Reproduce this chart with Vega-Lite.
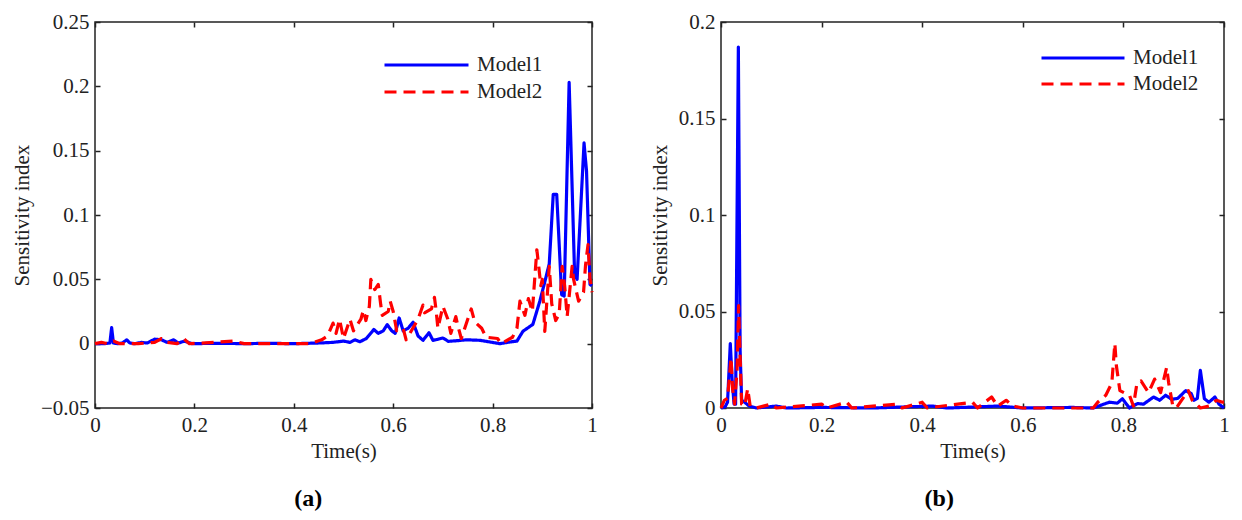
{
  "$schema": "https://vega.github.io/schema/vega-lite/v6.json",
  "background": "white",
  "padding": {"left": 10, "top": 10, "right": 0, "bottom": 0},
  "spacing": 50,
  "config": {
    "font": "Liberation Serif",
    "view": {"stroke": "#222222", "strokeWidth": 1.5},
    "axis": {
      "domain": false,
      "grid": false,
      "ticks": true,
      "tickSize": -5,
      "tickWidth": 1.5,
      "tickColor": "#222222",
      "labelFont": "Liberation Serif",
      "labelFontSize": 21,
      "labelColor": "#222222",
      "labelPadding": 11,
      "labelFlush": false,
      "labelOverlap": false,
      "titleFont": "Liberation Serif",
      "titleFontSize": 21,
      "titleFontWeight": "normal",
      "titleColor": "#222222"
    },
    "title": {"font": "Liberation Serif", "fontSize": 24, "fontWeight": "bold", "color": "#000000"}
  },
  "datasets": {
    "a": [
      {"model": "Model1", "t": 0, "v": 0},
      {"model": "Model1", "t": 0.02, "v": 0},
      {"model": "Model1", "t": 0.03, "v": 0.0005},
      {"model": "Model1", "t": 0.0335, "v": 0.0125},
      {"model": "Model1", "t": 0.037, "v": 0.0005},
      {"model": "Model1", "t": 0.045, "v": 0},
      {"model": "Model1", "t": 0.055, "v": 0.0005},
      {"model": "Model1", "t": 0.064, "v": 0.003},
      {"model": "Model1", "t": 0.07, "v": 0.0005},
      {"model": "Model1", "t": 0.08, "v": 0},
      {"model": "Model1", "t": 0.094, "v": 0.001},
      {"model": "Model1", "t": 0.105, "v": 0.0005},
      {"model": "Model1", "t": 0.12, "v": 0.0035},
      {"model": "Model1", "t": 0.134, "v": 0.003},
      {"model": "Model1", "t": 0.145, "v": 0.001},
      {"model": "Model1", "t": 0.158, "v": 0.003},
      {"model": "Model1", "t": 0.168, "v": 0.0005},
      {"model": "Model1", "t": 0.18, "v": 0.002},
      {"model": "Model1", "t": 0.195, "v": 0},
      {"model": "Model1", "t": 0.25, "v": 0.0003},
      {"model": "Model1", "t": 0.3, "v": 0},
      {"model": "Model1", "t": 0.35, "v": 0.0003},
      {"model": "Model1", "t": 0.4, "v": 0},
      {"model": "Model1", "t": 0.45, "v": 0.0005},
      {"model": "Model1", "t": 0.479, "v": 0.001},
      {"model": "Model1", "t": 0.5, "v": 0.002},
      {"model": "Model1", "t": 0.513, "v": 0.001},
      {"model": "Model1", "t": 0.523, "v": 0.003},
      {"model": "Model1", "t": 0.533, "v": 0.0015},
      {"model": "Model1", "t": 0.546, "v": 0.004},
      {"model": "Model1", "t": 0.561, "v": 0.011},
      {"model": "Model1", "t": 0.57, "v": 0.008},
      {"model": "Model1", "t": 0.58, "v": 0.01},
      {"model": "Model1", "t": 0.588, "v": 0.0148},
      {"model": "Model1", "t": 0.597, "v": 0.01},
      {"model": "Model1", "t": 0.604, "v": 0.008},
      {"model": "Model1", "t": 0.612, "v": 0.02},
      {"model": "Model1", "t": 0.62, "v": 0.01},
      {"model": "Model1", "t": 0.63, "v": 0.012},
      {"model": "Model1", "t": 0.64, "v": 0.0166},
      {"model": "Model1", "t": 0.65, "v": 0.006},
      {"model": "Model1", "t": 0.66, "v": 0.0026},
      {"model": "Model1", "t": 0.672, "v": 0.0085},
      {"model": "Model1", "t": 0.68, "v": 0.0026},
      {"model": "Model1", "t": 0.69, "v": 0.0034},
      {"model": "Model1", "t": 0.7, "v": 0.0044},
      {"model": "Model1", "t": 0.711, "v": 0.0018},
      {"model": "Model1", "t": 0.728, "v": 0.0023},
      {"model": "Model1", "t": 0.748, "v": 0.003},
      {"model": "Model1", "t": 0.775, "v": 0.0026},
      {"model": "Model1", "t": 0.795, "v": 0.0013},
      {"model": "Model1", "t": 0.815, "v": 0},
      {"model": "Model1", "t": 0.835, "v": 0.0013},
      {"model": "Model1", "t": 0.849, "v": 0.002},
      {"model": "Model1", "t": 0.861, "v": 0.0096},
      {"model": "Model1", "t": 0.881, "v": 0.015},
      {"model": "Model1", "t": 0.895, "v": 0.033},
      {"model": "Model1", "t": 0.905, "v": 0.048},
      {"model": "Model1", "t": 0.914, "v": 0.062},
      {"model": "Model1", "t": 0.922, "v": 0.116},
      {"model": "Model1", "t": 0.929, "v": 0.116},
      {"model": "Model1", "t": 0.939, "v": 0.038},
      {"model": "Model1", "t": 0.944, "v": 0.037},
      {"model": "Model1", "t": 0.954, "v": 0.203},
      {"model": "Model1", "t": 0.965, "v": 0.054},
      {"model": "Model1", "t": 0.97, "v": 0.05},
      {"model": "Model1", "t": 0.984, "v": 0.156},
      {"model": "Model1", "t": 0.989, "v": 0.134},
      {"model": "Model1", "t": 0.996, "v": 0.046},
      {"model": "Model1", "t": 1, "v": 0.045},
      {"model": "Model2", "t": 0, "v": 0},
      {"model": "Model2", "t": 0.013, "v": 0.001},
      {"model": "Model2", "t": 0.025, "v": 0},
      {"model": "Model2", "t": 0.037, "v": 0.002},
      {"model": "Model2", "t": 0.05, "v": 0},
      {"model": "Model2", "t": 0.087, "v": 0},
      {"model": "Model2", "t": 0.12, "v": 0.001},
      {"model": "Model2", "t": 0.134, "v": 0.004},
      {"model": "Model2", "t": 0.145, "v": 0.001},
      {"model": "Model2", "t": 0.165, "v": 0},
      {"model": "Model2", "t": 0.178, "v": 0.004},
      {"model": "Model2", "t": 0.19, "v": 0},
      {"model": "Model2", "t": 0.24, "v": 0.001},
      {"model": "Model2", "t": 0.28, "v": 0.002},
      {"model": "Model2", "t": 0.3, "v": 0},
      {"model": "Model2", "t": 0.4, "v": 0},
      {"model": "Model2", "t": 0.433, "v": 0},
      {"model": "Model2", "t": 0.456, "v": 0.003},
      {"model": "Model2", "t": 0.468, "v": 0.006},
      {"model": "Model2", "t": 0.479, "v": 0.016},
      {"model": "Model2", "t": 0.485, "v": 0.008},
      {"model": "Model2", "t": 0.492, "v": 0.019},
      {"model": "Model2", "t": 0.5, "v": 0.004},
      {"model": "Model2", "t": 0.513, "v": 0.019},
      {"model": "Model2", "t": 0.52, "v": 0.01},
      {"model": "Model2", "t": 0.535, "v": 0.019},
      {"model": "Model2", "t": 0.54, "v": 0.026},
      {"model": "Model2", "t": 0.545, "v": 0.018},
      {"model": "Model2", "t": 0.552, "v": 0.029},
      {"model": "Model2", "t": 0.555, "v": 0.05},
      {"model": "Model2", "t": 0.563, "v": 0.042},
      {"model": "Model2", "t": 0.57, "v": 0.046},
      {"model": "Model2", "t": 0.575, "v": 0.03},
      {"model": "Model2", "t": 0.578, "v": 0.022},
      {"model": "Model2", "t": 0.59, "v": 0.025},
      {"model": "Model2", "t": 0.594, "v": 0.033},
      {"model": "Model2", "t": 0.6, "v": 0.025},
      {"model": "Model2", "t": 0.607, "v": 0.01},
      {"model": "Model2", "t": 0.62, "v": 0.012},
      {"model": "Model2", "t": 0.626, "v": 0.003},
      {"model": "Model2", "t": 0.65, "v": 0.019},
      {"model": "Model2", "t": 0.66, "v": 0.03},
      {"model": "Model2", "t": 0.663, "v": 0.024},
      {"model": "Model2", "t": 0.677, "v": 0.027},
      {"model": "Model2", "t": 0.683, "v": 0.036},
      {"model": "Model2", "t": 0.686, "v": 0.027},
      {"model": "Model2", "t": 0.69, "v": 0.012},
      {"model": "Model2", "t": 0.7, "v": 0.029},
      {"model": "Model2", "t": 0.71, "v": 0.019},
      {"model": "Model2", "t": 0.716, "v": 0.008},
      {"model": "Model2", "t": 0.726, "v": 0.021},
      {"model": "Model2", "t": 0.73, "v": 0.014},
      {"model": "Model2", "t": 0.737, "v": 0.004},
      {"model": "Model2", "t": 0.757, "v": 0.027},
      {"model": "Model2", "t": 0.764, "v": 0.017},
      {"model": "Model2", "t": 0.778, "v": 0.012},
      {"model": "Model2", "t": 0.787, "v": 0.005},
      {"model": "Model2", "t": 0.81, "v": 0.004},
      {"model": "Model2", "t": 0.817, "v": 0},
      {"model": "Model2", "t": 0.84, "v": 0.005},
      {"model": "Model2", "t": 0.849, "v": 0.012},
      {"model": "Model2", "t": 0.855, "v": 0.033},
      {"model": "Model2", "t": 0.865, "v": 0.022},
      {"model": "Model2", "t": 0.872, "v": 0.035},
      {"model": "Model2", "t": 0.88, "v": 0.025},
      {"model": "Model2", "t": 0.889, "v": 0.073},
      {"model": "Model2", "t": 0.892, "v": 0.063},
      {"model": "Model2", "t": 0.897, "v": 0.045},
      {"model": "Model2", "t": 0.9, "v": 0.05},
      {"model": "Model2", "t": 0.905, "v": 0.0095},
      {"model": "Model2", "t": 0.914, "v": 0.06},
      {"model": "Model2", "t": 0.919, "v": 0.031},
      {"model": "Model2", "t": 0.927, "v": 0.018},
      {"model": "Model2", "t": 0.934, "v": 0.023},
      {"model": "Model2", "t": 0.94, "v": 0.06},
      {"model": "Model2", "t": 0.945, "v": 0.045},
      {"model": "Model2", "t": 0.95, "v": 0.021},
      {"model": "Model2", "t": 0.96, "v": 0.06},
      {"model": "Model2", "t": 0.963, "v": 0.05},
      {"model": "Model2", "t": 0.973, "v": 0.033},
      {"model": "Model2", "t": 0.983, "v": 0.04},
      {"model": "Model2", "t": 0.987, "v": 0.061},
      {"model": "Model2", "t": 0.992, "v": 0.077},
      {"model": "Model2", "t": 0.996, "v": 0.05},
      {"model": "Model2", "t": 1, "v": 0.04}
    ],
    "b": [
      {"model": "Model1", "t": 0, "v": 0},
      {"model": "Model1", "t": 0.008, "v": 0.0005},
      {"model": "Model1", "t": 0.013, "v": 0.003},
      {"model": "Model1", "t": 0.0185, "v": 0.0334},
      {"model": "Model1", "t": 0.022, "v": 0.015},
      {"model": "Model1", "t": 0.026, "v": 0.002},
      {"model": "Model1", "t": 0.029, "v": 0.002},
      {"model": "Model1", "t": 0.0345, "v": 0.187},
      {"model": "Model1", "t": 0.038, "v": 0.03},
      {"model": "Model1", "t": 0.041, "v": 0.004},
      {"model": "Model1", "t": 0.047, "v": 0.003},
      {"model": "Model1", "t": 0.056, "v": 0.001},
      {"model": "Model1", "t": 0.07, "v": 0},
      {"model": "Model1", "t": 0.11, "v": 0.001},
      {"model": "Model1", "t": 0.13, "v": 0},
      {"model": "Model1", "t": 0.2, "v": 0.0003},
      {"model": "Model1", "t": 0.3, "v": 0},
      {"model": "Model1", "t": 0.42, "v": 0.001},
      {"model": "Model1", "t": 0.45, "v": 0},
      {"model": "Model1", "t": 0.5, "v": 0.0005},
      {"model": "Model1", "t": 0.55, "v": 0.001},
      {"model": "Model1", "t": 0.6, "v": 0},
      {"model": "Model1", "t": 0.7, "v": 0.0003},
      {"model": "Model1", "t": 0.74, "v": 0},
      {"model": "Model1", "t": 0.772, "v": 0.003},
      {"model": "Model1", "t": 0.788, "v": 0.0025},
      {"model": "Model1", "t": 0.798, "v": 0.0048},
      {"model": "Model1", "t": 0.812, "v": 0},
      {"model": "Model1", "t": 0.828, "v": 0.0023},
      {"model": "Model1", "t": 0.84, "v": 0.002},
      {"model": "Model1", "t": 0.86, "v": 0.0057},
      {"model": "Model1", "t": 0.872, "v": 0.004},
      {"model": "Model1", "t": 0.884, "v": 0.0066},
      {"model": "Model1", "t": 0.896, "v": 0.0045},
      {"model": "Model1", "t": 0.908, "v": 0.005},
      {"model": "Model1", "t": 0.924, "v": 0.009},
      {"model": "Model1", "t": 0.935, "v": 0.0074},
      {"model": "Model1", "t": 0.94, "v": 0.004},
      {"model": "Model1", "t": 0.947, "v": 0.005},
      {"model": "Model1", "t": 0.953, "v": 0.0195},
      {"model": "Model1", "t": 0.961, "v": 0.0048},
      {"model": "Model1", "t": 0.97, "v": 0.003},
      {"model": "Model1", "t": 0.982, "v": 0.0057},
      {"model": "Model1", "t": 0.99, "v": 0.002},
      {"model": "Model1", "t": 1, "v": 0},
      {"model": "Model2", "t": 0, "v": 0},
      {"model": "Model2", "t": 0.0066, "v": 0.004},
      {"model": "Model2", "t": 0.013, "v": 0.005},
      {"model": "Model2", "t": 0.02, "v": 0.026},
      {"model": "Model2", "t": 0.023, "v": 0.01},
      {"model": "Model2", "t": 0.027, "v": 0.002},
      {"model": "Model2", "t": 0.032, "v": 0.02},
      {"model": "Model2", "t": 0.035, "v": 0.053},
      {"model": "Model2", "t": 0.038, "v": 0.027},
      {"model": "Model2", "t": 0.041, "v": 0.002},
      {"model": "Model2", "t": 0.047, "v": 0.001},
      {"model": "Model2", "t": 0.053, "v": 0.01},
      {"model": "Model2", "t": 0.058, "v": 0.001},
      {"model": "Model2", "t": 0.07, "v": 0},
      {"model": "Model2", "t": 0.1, "v": 0.002},
      {"model": "Model2", "t": 0.11, "v": 0},
      {"model": "Model2", "t": 0.2, "v": 0.002},
      {"model": "Model2", "t": 0.21, "v": 0},
      {"model": "Model2", "t": 0.25, "v": 0.003},
      {"model": "Model2", "t": 0.26, "v": 0},
      {"model": "Model2", "t": 0.35, "v": 0.002},
      {"model": "Model2", "t": 0.36, "v": 0},
      {"model": "Model2", "t": 0.4, "v": 0.003},
      {"model": "Model2", "t": 0.41, "v": 0},
      {"model": "Model2", "t": 0.5, "v": 0.003},
      {"model": "Model2", "t": 0.51, "v": 0},
      {"model": "Model2", "t": 0.538, "v": 0.0057},
      {"model": "Model2", "t": 0.55, "v": 0.001},
      {"model": "Model2", "t": 0.567, "v": 0.004},
      {"model": "Model2", "t": 0.58, "v": 0.001},
      {"model": "Model2", "t": 0.6, "v": 0},
      {"model": "Model2", "t": 0.74, "v": 0},
      {"model": "Model2", "t": 0.749, "v": 0.003},
      {"model": "Model2", "t": 0.765, "v": 0.0066},
      {"model": "Model2", "t": 0.777, "v": 0.013},
      {"model": "Model2", "t": 0.783, "v": 0.0334},
      {"model": "Model2", "t": 0.786, "v": 0.022},
      {"model": "Model2", "t": 0.793, "v": 0.009},
      {"model": "Model2", "t": 0.812, "v": 0.0066},
      {"model": "Model2", "t": 0.82, "v": 0.001},
      {"model": "Model2", "t": 0.827, "v": 0.013},
      {"model": "Model2", "t": 0.835, "v": 0.014},
      {"model": "Model2", "t": 0.85, "v": 0.008},
      {"model": "Model2", "t": 0.862, "v": 0.015},
      {"model": "Model2", "t": 0.874, "v": 0.008},
      {"model": "Model2", "t": 0.886, "v": 0.021},
      {"model": "Model2", "t": 0.89, "v": 0.013},
      {"model": "Model2", "t": 0.898, "v": 0.0014},
      {"model": "Model2", "t": 0.905, "v": 0},
      {"model": "Model2", "t": 0.929, "v": 0.009},
      {"model": "Model2", "t": 0.937, "v": 0.004},
      {"model": "Model2", "t": 0.953, "v": 0},
      {"model": "Model2", "t": 0.97, "v": 0.001},
      {"model": "Model2", "t": 0.985, "v": 0.004},
      {"model": "Model2", "t": 0.997, "v": 0.003},
      {"model": "Model2", "t": 1, "v": 0.003}
    ]
  },
  "resolve": {
    "scale": {"color": "independent", "strokeDash": "independent"},
    "legend": {"color": "independent", "strokeDash": "independent"}
  },
  "hconcat": [
    {
      "width": 497,
      "height": 386,
      "data": {"name": "a"},
      "title": {"text": "(a)", "orient": "bottom", "anchor": "middle", "frame": "bounds", "offset": 26, "dx": 4},
      "layer": [
        {
          "mark": {"type": "line", "strokeWidth": 3.2, "strokeCap": "butt", "strokeJoin": "round"},
          "encoding": {
            "x": {"field": "t", "type": "quantitative", "scale": {"domain": [0, 1], "nice": false},
                  "axis": {"orient": "bottom", "values": [0, 0.2, 0.4, 0.6, 0.8, 1], "format": "~g", "title": "Time(s)", "titlePadding": 5}},
            "y": {"field": "v", "type": "quantitative", "scale": {"domain": [-0.05, 0.25], "nice": false, "zero": false},
                  "axis": {"orient": "left", "values": [-0.05, 0, 0.05, 0.1, 0.15, 0.2, 0.25], "format": "~g", "title": "Sensitivity index", "titlePadding": 8}},
            "color": {"field": "model", "type": "nominal",
                      "scale": {"domain": ["Model1", "Model2"], "range": ["#0000ff", "#ff0000"]},
                      "legend": {"orient": "none", "legendX": 288, "legendY": 33, "title": null, "symbolType": "stroke", "symbolSize": 7056, "symbolStrokeWidth": 3, "clipHeight": 20, "rowPadding": 6, "labelOffset": 7, "labelFontSize": 21, "labelFont": "Liberation Serif", "labelColor": "#222222", "padding": 0}},
            "strokeDash": {"field": "model", "type": "nominal",
                           "scale": {"domain": ["Model1", "Model2"], "range": [[1, 0], [12, 7]]},
                           "legend": {"orient": "none", "legendX": 288, "legendY": 33, "title": null, "symbolType": "stroke", "symbolSize": 7056, "symbolStrokeWidth": 3, "clipHeight": 20, "rowPadding": 6, "labelOffset": 7, "labelFontSize": 21, "labelFont": "Liberation Serif", "labelColor": "#222222", "padding": 0}}
          }
        },
        {
          "mark": {"type": "point", "opacity": 0},
          "encoding": {
            "x": {"field": "t", "type": "quantitative", "axis": {"orient": "top", "values": [0, 0.2, 0.4, 0.6, 0.8, 1], "labels": false, "title": null}},
            "y": {"field": "v", "type": "quantitative", "axis": {"orient": "right", "values": [-0.05, 0, 0.05, 0.1, 0.15, 0.2, 0.25], "labels": false, "title": null}}
          }
        }
      ],
      "resolve": {"axis": {"x": "independent", "y": "independent"}}
    },
    {
      "width": 503,
      "height": 386,
      "data": {"name": "b"},
      "title": {"text": "(b)", "orient": "bottom", "anchor": "middle", "frame": "bounds", "offset": 26},
      "layer": [
        {
          "mark": {"type": "line", "strokeWidth": 3.2, "strokeCap": "butt", "strokeJoin": "round"},
          "encoding": {
            "x": {"field": "t", "type": "quantitative", "scale": {"domain": [0, 1], "nice": false},
                  "axis": {"orient": "bottom", "values": [0, 0.2, 0.4, 0.6, 0.8, 1], "format": "~g", "title": "Time(s)", "titlePadding": 5}},
            "y": {"field": "v", "type": "quantitative", "scale": {"domain": [0, 0.2], "nice": false},
                  "axis": {"orient": "left", "values": [0, 0.05, 0.1, 0.15, 0.2], "format": "~g", "title": "Sensitivity index", "titlePadding": 8}},
            "color": {"field": "model", "type": "nominal",
                      "scale": {"domain": ["Model1", "Model2"], "range": ["#0000ff", "#ff0000"]},
                      "legend": {"orient": "none", "legendX": 319, "legendY": 26, "title": null, "symbolType": "stroke", "symbolSize": 6889, "symbolStrokeWidth": 3, "clipHeight": 20, "rowPadding": 5, "labelOffset": 7, "labelFontSize": 21, "labelFont": "Liberation Serif", "labelColor": "#222222", "padding": 0}},
            "strokeDash": {"field": "model", "type": "nominal",
                           "scale": {"domain": ["Model1", "Model2"], "range": [[1, 0], [12, 7]]},
                           "legend": {"orient": "none", "legendX": 319, "legendY": 26, "title": null, "symbolType": "stroke", "symbolSize": 6889, "symbolStrokeWidth": 3, "clipHeight": 20, "rowPadding": 5, "labelOffset": 7, "labelFontSize": 21, "labelFont": "Liberation Serif", "labelColor": "#222222", "padding": 0}}
          }
        },
        {
          "mark": {"type": "point", "opacity": 0},
          "encoding": {
            "x": {"field": "t", "type": "quantitative", "axis": {"orient": "top", "values": [0, 0.2, 0.4, 0.6, 0.8, 1], "labels": false, "title": null}},
            "y": {"field": "v", "type": "quantitative", "axis": {"orient": "right", "values": [0, 0.05, 0.1, 0.15, 0.2], "labels": false, "title": null}}
          }
        }
      ],
      "resolve": {"axis": {"x": "independent", "y": "independent"}}
    }
  ]
}
